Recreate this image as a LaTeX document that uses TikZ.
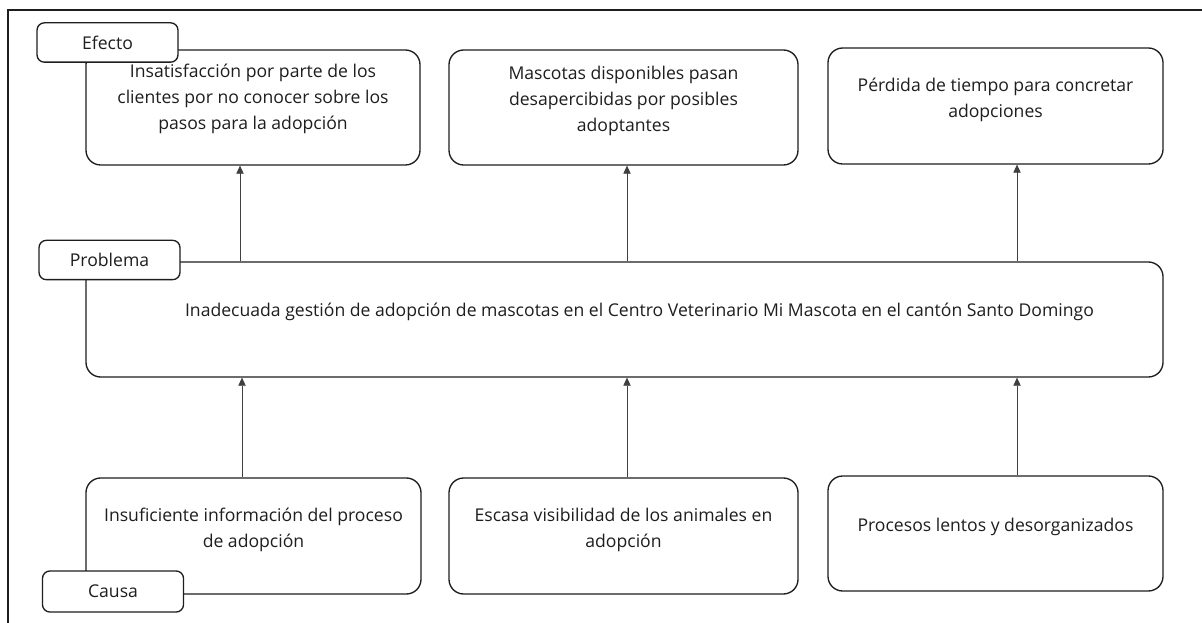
\documentclass[tikz,border=0pt]{standalone}
\usepackage{fontspec}
\setmainfont{Open Sans}
\usetikzlibrary{arrows.meta}
\definecolor{ink}{HTML}{1E1E1E}
\tikzset{
  bigbox/.style={draw=ink, line width=1pt, rounded corners=11pt, fill=white, inner sep=0pt},
  labelbox/.style={draw=ink, line width=1pt, rounded corners=5.5pt, fill=white, inner sep=0pt,
     minimum width=105.75pt, minimum height=29.5pt, font=\fontsize{13.2}{16}\selectfont, text=ink},
  txt/.style={align=center, inner sep=0pt, text=ink, font=\fontsize{13.2}{19.5}\selectfont},
  arr/.style={draw=ink!85, line width=0.5pt, -{Triangle[width=5.5pt,length=6pt]}},
  frame/.style={draw=ink, line width=1.1pt}
}
\begin{document}
\begin{tikzpicture}[x=0.75pt,y=-0.75pt]
\useasboundingbox (0,0) rectangle (1202,623);
% frame
\coordinate (fa) at (8,623);
\coordinate (fb) at (8,10);
\coordinate (fc) at (1202,10);
\draw[frame] (fa) -- (fb) -- (fc);
% effect boxes
\node[bigbox, minimum width=250.5pt, minimum height=86.25pt] (e1) at (253,107.5) {};
\node[bigbox, minimum width=261.75pt, minimum height=86.25pt] (e2) at (623.5,107.5) {};
\node[bigbox, minimum width=251.25pt, minimum height=87pt] (e3) at (995.5,106) {};
% problem
\node[bigbox, minimum width=807.75pt, minimum height=86.25pt] (p) at (624.5,319.5) {};
% cause boxes
\node[bigbox, minimum width=251.25pt, minimum height=87pt] (c1) at (253.5,536) {};
\node[bigbox, minimum width=261.75pt, minimum height=87pt] (c2) at (623.5,536) {};
\node[bigbox, minimum width=251.25pt, minimum height=86.25pt] (c3) at (995.5,533.5) {};
% texts
\node[txt] (te1) at (253,99) {Insatisfacción por parte de los\\clientes por no conocer sobre los\\pasos para la adopción};
\node[txt] (te2) at (623.5,101) {Mascotas disponibles pasan\\desapercibidas por posibles\\adoptantes};
\node[txt] (te3) at (995.5,99.5) {Pérdida de tiempo para concretar\\adopciones};
\node[txt] (tp) at (639.5,312) {Inadecuada gestión de adopción de mascotas en el Centro Veterinario Mi Mascota en el cantón Santo Domingo};
\node[txt] (tc1) at (253.5,530) {Insuficiente información del proceso\\de adopción};
\node[txt] (tc2) at (623.5,530) {Escasa visibilidad de los animales en\\adopción};
\node[txt] (tc3) at (995.5,527) {Procesos lentos y desorganizados};
% labels
\node[labelbox] (le) at (107.5,42.5) {Efecto};
\node[labelbox] (lp) at (109.5,260) {Problema};
\node[labelbox, minimum height=30.75pt] (lc) at (113,591.5) {Causa};
% arrows
\coordinate (x1) at (240,0);
\coordinate (x2) at (627,0);
\coordinate (x3) at (1017,0);
\coordinate (y1) at (242,0);
\draw[arr] (x1 |- p.north) -- (x1 |- e1.south);
\draw[arr] (x2 |- p.north) -- (x2 |- e2.south);
\draw[arr] (x3 |- p.north) -- (x3 |- e3.south);
\draw[arr] (y1 |- c1.north) -- (y1 |- p.south);
\draw[arr] (x2 |- c2.north) -- (x2 |- p.south);
\draw[arr] (x3 |- c3.north) -- (x3 |- p.south);
\end{tikzpicture}
\end{document}
